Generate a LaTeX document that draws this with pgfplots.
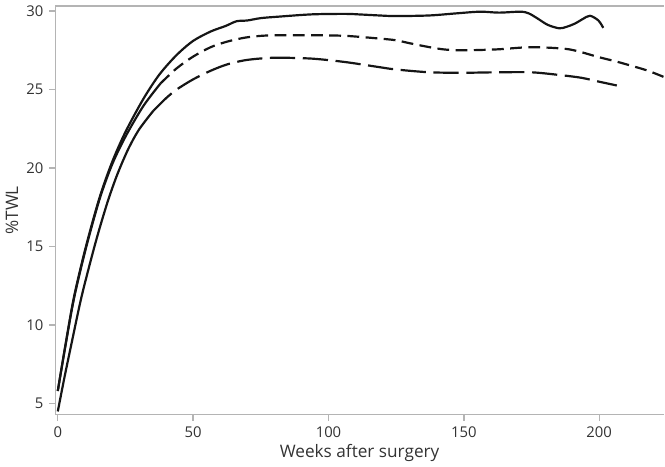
\documentclass[border=0pt]{standalone}
\usepackage{fontspec}
\setmainfont{Open Sans}
\usepackage{pgfplots}
\pgfplotsset{compat=1.18}
\definecolor{axgray}{HTML}{B4B4B4}
\definecolor{txt}{HTML}{333333}
\definecolor{ln}{HTML}{151515}
\begin{document}
\begin{tikzpicture}
\begin{axis}[
  scale only axis,
  width=361pt, height=242.4pt,
  xmin=-0.93, xmax=223.9, ymin=4.29, ymax=30.32,
  axis x line=bottom, axis y line=left,
  axis line style={axgray, line width=0.9pt, -},
  xtick={0,50,100,150,200}, ytick={5,10,15,20,25,30},
  tick style={axgray, line width=0.8pt},
  tick align=outside, major tick length=3.5pt,
  ticklabel style={font=\fontsize{8.8}{10}\selectfont, text=txt},
  /pgf/number format/assume math mode=true,
  xlabel={Weeks after surgery}, ylabel={\%TWL},
  label style={font=\fontsize{10.2}{12}\selectfont, text=txt},
  xlabel style={yshift=3pt},
  ylabel style={yshift=-2pt},
  clip=false,
]
\draw[axgray, line width=0.9pt] (rel axis cs:0,1) -- (rel axis cs:1,1);
% solid
\addplot[ln, line width=1.3pt, smooth, tension=0.5] coordinates {
(0,5.8) (2.7,8.6) (6,11.8) (10.4,15.0) (15.4,18.1) (20,20.35) (25,22.3) (31.6,24.4) (37.5,25.95) (43.9,27.2) (50,28.1) (56.5,28.7) (62,29.05) (66,29.35) (70,29.4) (75,29.55) (81.3,29.64) (93.9,29.79) (106.3,29.82) (112,29.78) (118.7,29.72) (124.9,29.68) (137.3,29.72) (147,29.85) (156,29.96) (163,29.9) (170.9,29.96) (174,29.85) (177.2,29.53) (181,29.12) (185.3,28.9) (188,29.0) (191,29.2) (194,29.5) (196.6,29.7) (199.7,29.4) (201.5,28.93)
};
% short dash: solid start
\addplot[ln, line width=1.3pt, smooth, tension=0.5] coordinates {
(0,5.8) (2.7,8.55) (6,11.7) (10.4,14.9) (15.4,18.0) (20,20.2) (25,22.0) (31.6,23.95) (38,25.4)
};
\addplot[ln, line width=1.3pt, smooth, tension=0.5, dash pattern=on 7pt off 3.8pt] coordinates {
(38,25.4) (43.9,26.35) (50,27.1) (56.5,27.7) (62.5,28.05) (68.9,28.3) (75,28.42) (81.3,28.46) (93.9,28.46) (106.3,28.42) (118.7,28.25) (124.9,28.14) (130,27.95) (137.3,27.7) (143,27.55) (149.9,27.5) (162.3,27.56) (174.8,27.7) (187.2,27.6) (193,27.4) (199.7,27.07) (206,26.8) (212.2,26.5) (218,26.2) (223.9,25.8)
};
% long dash: solid start
\addplot[ln, line width=1.3pt, smooth, tension=0.5] coordinates {
(0,4.5) (2.5,6.7) (4.8,8.6) (8.5,11.6) (12,14.0) (15,15.9) (18.5,17.9) (22,19.6) (26,21.2) (30,22.45) (35.3,23.65)
};
\addplot[ln, line width=1.3pt, smooth, tension=0.5, dash pattern=on 15pt off 4.5pt] coordinates {
(35.3,23.65) (40,24.45) (43.9,25.0) (50,25.65) (56.5,26.2) (62.5,26.6) (68.9,26.86) (75,26.98) (81.3,27.03) (93.9,26.97) (106.3,26.75) (118.7,26.43) (124.9,26.28) (137.3,26.1) (149.9,26.07) (162.3,26.1) (174.8,26.1) (184.7,25.94) (193.4,25.75) (200,25.5) (206.5,25.26)
};
\end{axis}
\end{tikzpicture}
\end{document}
